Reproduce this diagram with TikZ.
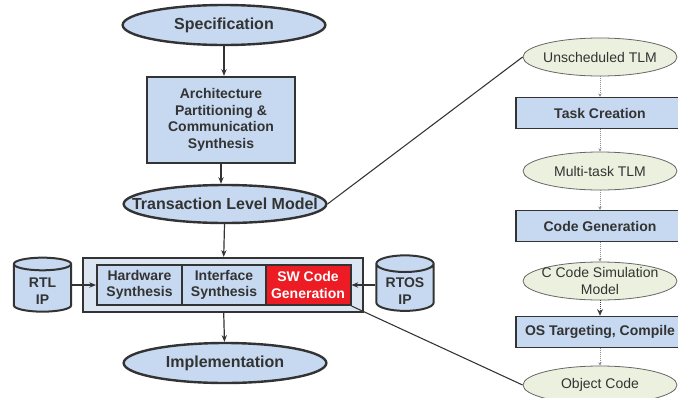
\documentclass[tikz,border=0pt]{standalone}
\usepackage{fontspec}
\setmainfont{Liberation Sans}
\usetikzlibrary{shapes.geometric,arrows.meta,positioning}

\definecolor{boxblue}{RGB}{198,217,241}
\definecolor{paleblue}{RGB}{220,230,242}
\definecolor{palegreen}{RGB}{235,241,222}
\definecolor{swred}{RGB}{237,28,36}
\definecolor{linegray}{RGB}{51,51,51}
\definecolor{txtgray}{RGB}{51,51,51}

\newcommand{\dbtext}[1]{\raisebox{-2pt}[\height][\depth]{\begin{tabular}{@{}c@{}}#1\end{tabular}}}

\tikzset{
  oval/.style={ellipse,draw=linegray,line width=1.8pt,fill=boxblue,
    minimum width=152pt,minimum height=30pt,inner xsep=-25pt,inner ysep=-4pt,
    text=txtgray,font=\bfseries\fontsize{12}{14}\selectfont},
  blk/.style={rectangle,draw=linegray,line width=1.5pt,fill=boxblue,align=center,
    text=txtgray,font=\bfseries\fontsize{10.5}{12.5}\selectfont},
  dbase/.style={cylinder,shape border rotate=90,aspect=0.35,draw=linegray,
    line width=1.5pt,fill=boxblue,minimum width=43pt,minimum height=40.5pt,
    inner ysep=0pt,text=txtgray,font=\bfseries\fontsize{10.5}{12.75}\selectfont},
  lcell/.style={ellipse,draw=black!60,line width=0.6pt,fill=palegreen,
    minimum width=115.5pt,minimum height=28.5pt,inner xsep=-20pt,inner ysep=-4pt,
    align=center,text=txtgray,font=\fontsize{10.5}{12.75}\selectfont},
  stage/.style={rectangle,draw=linegray,line width=1.1pt,fill=boxblue,
    minimum width=126pt,minimum height=23.25pt,
    text=txtgray,font=\bfseries\fontsize{10.5}{12.5}\selectfont},
  arr/.style={draw=linegray,line width=0.9pt,-{Stealth[length=5pt,width=4pt]}},
  dotarr/.style={draw=black!45,line width=0.5pt,densely dotted,-{Stealth[length=2.5pt,width=2.5pt]}},
  link/.style={draw=linegray,line width=0.8pt}
}

\begin{document}
\begin{tikzpicture}[x=0.75pt,y=-0.75pt]
  \useasboundingbox (0,0) rectangle (678,397);
  \clip (0,0) rectangle (678,397);

  % design flow
  \node[oval] (spec) at (224,25) {Specification};
  \node[blk,line width=1.8pt,minimum width=111pt,minimum height=64.5pt]
    (arch) at (221,120) {Architecture\\Partitioning \&\\Communication\\Synthesis};
  \node[oval,minimum height=28.5pt] (tlm) at (225,204) {Transaction Level Model};
  \node[rectangle,draw=linegray,line width=1.8pt,fill=paleblue,
    minimum width=210pt,minimum height=40.5pt] (sys) at (223,285) {};
  \node[blk,minimum width=63.75pt,minimum height=30pt]
    (hw) at (139.5,285) {Hardware\\Synthesis};
  \node[blk,minimum width=63.75pt,minimum height=30pt]
    (intf) at (224,285) {Interface\\Synthesis};
  \node[blk,fill=swred,text=white,minimum width=63.75pt,minimum height=30pt]
    (swgen) at (308,285) {SW Code\\Generation};
  \node[oval] (impl) at (225,363) {Implementation};
  \node[dbase] (rtl) at (42.5,290) {\dbtext{RTL\\IP}};
  \node[dbase] (rtos) at (405,290) {\dbtext{RTOS\\IP}};

  \draw[arr] (spec) -- (spec |- arch.north);
  \draw[arr] (arch) -- (arch |- tlm.north);
  \draw[arr] (tlm) -- (sys);
  \draw[arr] (sys) -- (impl);
  \draw[arr] (rtl.east |- hw.west) -- (hw.west);
  \draw[arr] (rtos.west |- swgen.east) -- (swgen.east);

  % software refinement
  \node[lcell] (uns) at (600,57) {Unscheduled TLM};
  \node[stage] (task) at (600,113) {Task Creation};
  \node[lcell] (multi) at (600,171) {Multi-task TLM};
  \node[stage] (cgen) at (600,226) {Code Generation};
  \node[lcell] (csim) at (600,281) {C Code Simulation\\Model};
  \node[stage] (ostgt) at (600,332) {OS Targeting, Compile};
  \node[lcell] (obj) at (600,385) {Object Code};

  \draw[dotarr] (uns) -- (task);
  \draw[dotarr] (task) -- (multi);
  \draw[dotarr] (multi) -- (cgen);
  \draw[dotarr] (cgen) -- (csim);
  \draw[dotarr,draw=black!75,line width=0.7pt,-{Stealth[length=5pt,width=4.5pt]}] (csim) -- (ostgt);
  \draw[dotarr] (ostgt) -- (obj);

  \draw[link] (tlm.east) -- (uns.west);
  \draw[link] (swgen.south east) -- (obj.west);
\end{tikzpicture}
\end{document}
